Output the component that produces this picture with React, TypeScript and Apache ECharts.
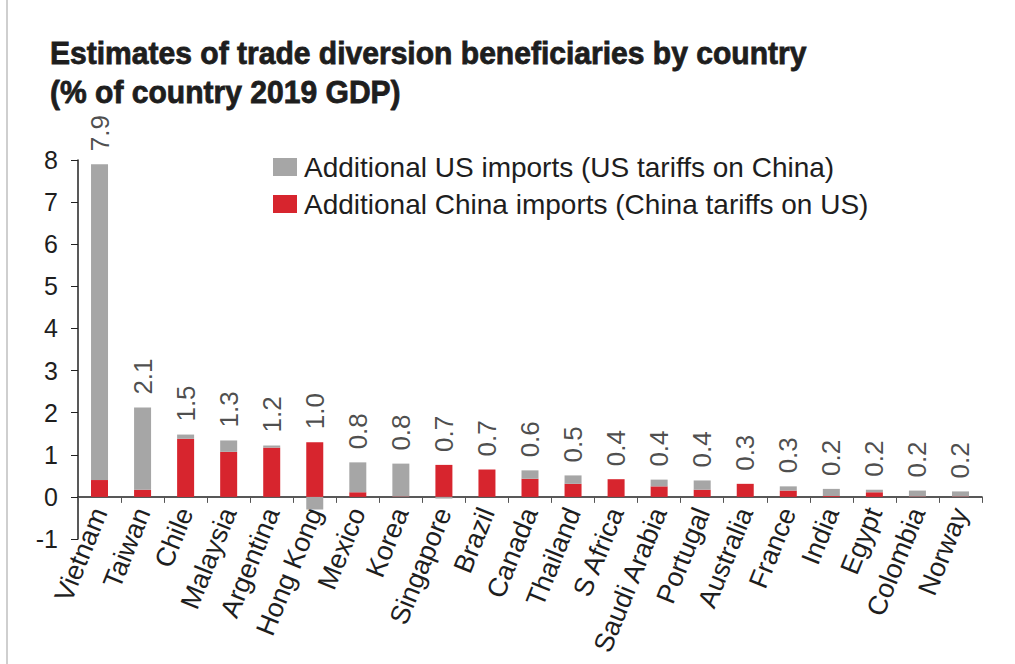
import React, { useEffect, useRef } from "react";
import * as echarts from "echarts";

const categories = [
  "Vietnam", "Taiwan", "Chile", "Malaysia", "Argentina", "Hong Kong", "Mexico",
  "Korea", "Singapore", "Brazil", "Canada", "Thailand", "S Africa", "Saudi Arabia",
  "Portugal", "Australia", "France", "India", "Egypt", "Colombia", "Norway",
];
// Additional China imports (China tariffs on US), % of GDP
const chinaImports = [0.40, 0.17, 1.38, 1.07, 1.17, 1.30, 0.11, 0.01, 0.76, 0.65, 0.43, 0.31, 0.42, 0.25, 0.17, 0.31, 0.15, 0.02, 0.11, 0.01, 0.01];
// Additional US imports (US tariffs on China), % of GDP
const usImports = [7.50, 1.95, 0.10, 0.27, 0.05, -0.30, 0.71, 0.78, -0.04, 0.00, 0.20, 0.20, 0.00, 0.16, 0.22, 0.00, 0.10, 0.17, 0.06, 0.14, 0.12];
// Total labels shown above bars
const totals = ["7.9", "2.1", "1.5", "1.3", "1.2", "1.0", "0.8", "0.8", "0.7", "0.7", "0.6", "0.5", "0.4", "0.4", "0.4", "0.3", "0.3", "0.2", "0.2", "0.2", "0.2"];
const yTicks = { min: -1, max: 8, interval: 1 };

const US_NAME = "Additional US imports (US tariffs on China)";
const CN_NAME = "Additional China imports (China tariffs on US)";
const GREY = "#a6a6a6";
const RED = "#d7252e";
const TEXT = "#1e1e1e";
const FONT = "'Liberation Sans', Arial, Helvetica, sans-serif";

export default function App() {
  const ref = useRef<HTMLDivElement>(null);
  useEffect(() => {
    if (!ref.current) return;
    const chart = echarts.init(ref.current, null, { renderer: "svg" });
    const labelTop = categories.map((_, i) => chinaImports[i] + Math.max(usImports[i], 0));
    chart.setOption({
      animation: false,
      backgroundColor: "#ffffff",
      textStyle: { fontFamily: FONT, color: TEXT },
      graphic: [
        {
          type: "line",
          shape: { x1: 7, y1: 0, x2: 7, y2: 664 },
          style: { stroke: "#cfcfcf", lineWidth: 2 },
        },
        {
          type: "text",
          x: 50,
          y: 33,
          scaleX: 0.97,
          style: {
            text: "Estimates of trade diversion beneficiaries by country\n(% of country 2019 GDP)",
            fontFamily: FONT,
            fontWeight: "bold",
            fontSize: 31,
            lineHeight: 39,
            fill: TEXT,
            stroke: TEXT,
            lineWidth: 0.8,
          },
        },
      ],
      legend: {
        data: [US_NAME, CN_NAME],
        orient: "vertical",
        left: 268,
        top: 148,
        itemWidth: 24,
        itemHeight: 18,
        itemGap: 9,
        icon: "rect",
        textStyle: { fontFamily: FONT, fontSize: 28, color: TEXT, padding: [0, 0, 0, 2] },
      },
      grid: { left: 78, right: 33, top: 160, bottom: 125, containLabel: false },
      xAxis: {
        type: "category",
        data: categories,
        axisLine: { onZero: true, lineStyle: { color: "#222", width: 1.5 } },
        axisTick: { show: true, alignWithLabel: false, length: 6, lineStyle: { color: "#555" } },
        axisLabel: {
          interval: 0,
          rotate: 68,
          fontSize: 27,
          fontFamily: FONT,
          color: TEXT,
          margin: -30,
        },
      },
      yAxis: {
        type: "value",
        min: yTicks.min,
        max: yTicks.max,
        interval: yTicks.interval,
        splitLine: { show: false },
        axisLine: { show: true, lineStyle: { color: "#222", width: 1.5 } },
        axisTick: { show: true, length: 7, lineStyle: { color: "#222" } },
        axisLabel: { fontSize: 25, fontFamily: FONT, color: TEXT, margin: 20 },
      },
      series: [
        {
          name: CN_NAME,
          type: "bar",
          stack: "total",
          barWidth: 17,
          itemStyle: { color: RED },
          data: chinaImports,
        },
        {
          name: US_NAME,
          type: "bar",
          stack: "total",
          barWidth: 17,
          itemStyle: { color: GREY },
          data: usImports,
        },
        {
          name: "totals",
          type: "scatter",
          symbolSize: 0,
          silent: true,
          data: labelTop.map((v, i) => ({ value: v, label: { formatter: totals[i] } })),
          label: {
            show: true,
            position: "top",
            distance: 13,
            rotate: 90,
            align: "left",
            verticalAlign: "middle",
            fontSize: 26,
            fontFamily: FONT,
            color: TEXT,
          },
        },
      ],
    });
    return () => chart.dispose();
  }, []);
  return (
    <div
      ref={ref}
      style={{ position: "fixed", left: 0, top: 0, width: 1015, height: 664, background: "#fff" }}
    />
  );
}
